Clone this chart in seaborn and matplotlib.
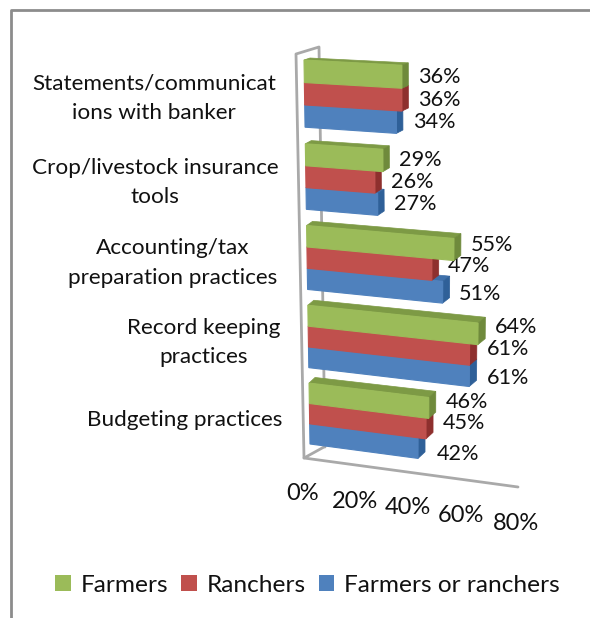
import numpy as np
import pandas as pd
import seaborn as sns
import matplotlib
matplotlib.use("Agg")
import matplotlib.pyplot as plt
from matplotlib.lines import Line2D
from matplotlib.patches import Patch, Polygon
from matplotlib.transforms import Affine2D, IdentityTransform, Transform

# Survey results, listed from the top row of the chart to the bottom
practices = ["Statements/communicat\nions with banker", "Crop/livestock insurance\ntools",
             "Accounting/tax\npreparation practices", "Record keeping\npractices", "Budgeting practices"]
groups = ["Farmers", "Ranchers", "Farmers or ranchers"]
farmers = [36, 29, 55, 64, 46]
ranchers = [36, 26, 47, 61, 45]
either = [34, 27, 51, 61, 42]
axis_ticks = [0, 20, 40, 60, 80]

front_colors = ["#9BBB59", "#C0504D", "#4F81BD"]
side_colors = ["#6F8A3C", "#8E302E", "#2F6098"]
top_colors = ["#7D9A45", "#A23F3C", "#3F70AA"]
wall_color = "#A9A9A9"
frame_color = "#8C8C8C"

W, H = 590, 618
NAME_FS, VALUE_FS, TICK_FS, LEGEND_FS = 16.2, 15.6, 17, 17.6


class Perspective(Transform):
    """Projects (share, band position) through a plane homography to pixels."""
    input_dims = output_dims = 2
    is_affine = False
    has_inverse = False

    def __init__(self, corners):
        super().__init__()
        src = [(0, -0.4), (80, -0.4), (0, 4.4), (80, 4.4)]
        rows, rhs = [], []
        for (u, v), (x, y) in zip(src, corners):
            rows.append([u, v, 1, 0, 0, 0, -u * x, -v * x]); rhs.append(x)
            rows.append([0, 0, 0, u, v, 1, -u * y, -v * y]); rhs.append(y)
        h = np.linalg.solve(np.array(rows, float), np.array(rhs, float))
        self.m = np.append(h, 1).reshape(3, 3)

    def transform_non_affine(self, values):
        pts = np.column_stack([values, np.ones(len(values))]) @ self.m.T
        xy = pts[:, :2] / pts[:, 2:]
        return np.column_stack([xy[:, 0], H - xy[:, 1]])


front = Perspective([(304, 60), (527, 72), (310, 444), (520, 472)])
back = Perspective([(310, 58), (534, 69), (316, 438), (528, 465)])
pixels = Affine2D().scale(1, -1).translate(0, H)

sns.set_theme(style="white")
plt.rcParams["font.family"] = ["Lato", "DejaVu Sans"]
fig = plt.figure(figsize=(W / 100, H / 100), dpi=100)
ax = fig.add_axes([0, 0, 1, 1])

df = pd.DataFrame({
    "Practice": practices * 3,
    "Share": farmers + ranchers + either,
    "Group": np.repeat(groups, len(practices)),
})
sns.barplot(data=df, y="Practice", x="Share", hue="Group", order=practices, hue_order=groups,
            palette=front_colors, saturation=1, width=0.8, gap=0, legend=False, ax=ax)
ax.set_axis_off()

# Chart frame: top and left edges only
ax.add_line(Line2D([11, 11, W], [H, 10, 10], transform=pixels, color=frame_color, lw=2, clip_on=False))

# Walls and floor of the box
wall = dict(transform=pixels, color=wall_color, lw=2, clip_on=False, zorder=1, solid_capstyle="round")
ax.add_line(Line2D([304, 296, 319, 325], [458, 54, 47, 447], **wall))
ax.add_line(Line2D([518, 304, 324], [487, 458, 447], **wall))

# Each bar is a box; lower rows are painted first so upper fronts hide their tops
for k in (2, 1, 0):
    for bar in ax.containers[k]:
        x0, y0, w, h = bar.get_x(), bar.get_y(), bar.get_width(), bar.get_height()
        x1, y1 = x0 + w, y0 + h
        ftl, ftr, fbr = front.transform_non_affine(np.array([(x0, y0), (x1, y0), (x1, y1)]))
        btl, btr, bbr = back.transform_non_affine(np.array([(x0, y0), (x1, y0), (x1, y1)]))
        z = 3 + (2 - k) * 0.1
        ax.add_patch(Polygon([ftl, ftr, btr, btl], closed=True, transform=IdentityTransform(),
                             fc=top_colors[k], ec=top_colors[k], lw=0.5, clip_on=False, zorder=z))
        ax.add_patch(Polygon([ftr, btr, bbr, fbr], closed=True, transform=IdentityTransform(),
                             fc=side_colors[k], ec=side_colors[k], lw=0.5, clip_on=False, zorder=z))
        bar.set_transform(front)
        bar.set_clip_on(False)
        bar.set_edgecolor(front_colors[k])
        bar.set_linewidth(0.8)
        bar.set_zorder(z + 0.01)

# Row names
name_pos = [(154, 98), (155, 182.5), (173, 263), (204, 342.5), (185, 420)]
for name, (x, y) in zip(practices, name_pos):
    ax.text(x, y, name, transform=pixels, ha="center", va="center", fontsize=NAME_FS,
            color="#111111", linespacing=1.6)

# Value labels
value_pos = [[(418, 77), (399, 160), (471, 245), (495, 327), (446, 402)],
             [(418, 100), (391, 182), (448, 266), (487, 349), (443, 423)],
             [(413, 122), (394, 204), (459, 294), (487, 378), (437, 454)]]
for series, places in zip((farmers, ranchers, either), value_pos):
    for val, (x, y) in zip(series, places):
        ax.text(x, y, f"{val}%", transform=pixels, ha="left", va="center", fontsize=VALUE_FS, color="#111111")

# Share axis labels step down with the floor
tick_pos = [(303, 494), (355, 502), (408, 508), (461, 515), (516, 524)]
for t, (x, y) in zip(axis_ticks, tick_pos):
    ax.text(x, y, f"{t}%", transform=pixels, ha="center", va="center", fontsize=TICK_FS, color="#111111")

handles = [Patch(fc=c, ec="none") for c in front_colors]
ax.legend(handles, groups, ncol=3, frameon=False, loc="center", bbox_to_anchor=(307.5 / W, 1 - 585 / H),
          fontsize=LEGEND_FS, handlelength=0.62, handleheight=0.62, handletextpad=0.4, columnspacing=0.55,
          labelcolor="#111111", borderpad=0)

fig.savefig("out.png", dpi=100, facecolor="white")
